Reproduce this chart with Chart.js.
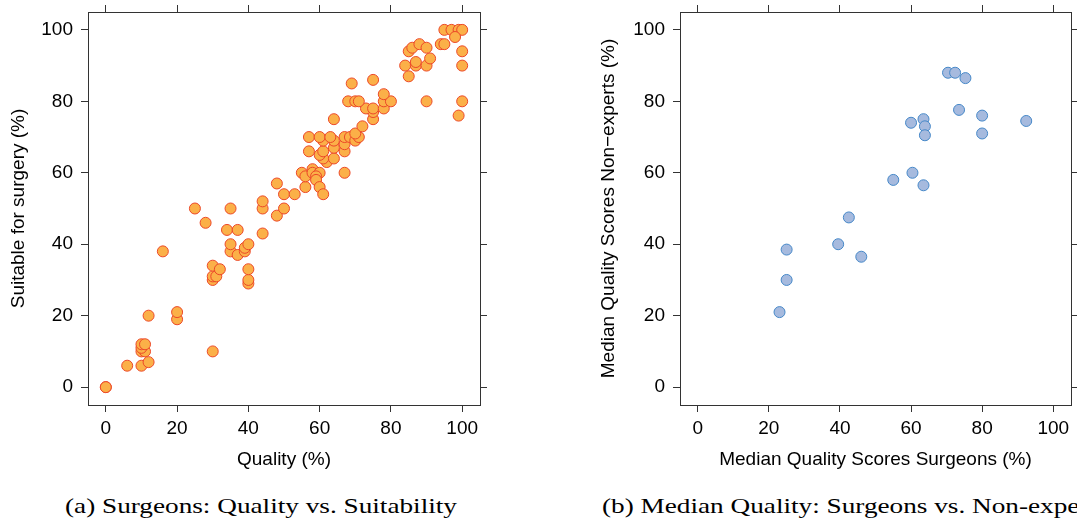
<!DOCTYPE html>
<html>
<head>
<meta charset="utf-8">
<script src="https://cdn.jsdelivr.net/npm/chart.js@4.4.0/dist/chart.umd.min.js"></script>
<style>
html, body { margin:0; padding:0; background:#fff; overflow:hidden; width:1077px; height:521px; }
.plot { position:absolute; top:0; }
#wrapA { left:0; width:490px; height:480px; }
#wrapB { left:590px; width:497px; height:480px; }
.caption { position:absolute; top:494px; font-family:'Liberation Serif', serif; font-size:21px; white-space:nowrap; transform-origin:0 0; color:#000; }
#capA { left:65px; }
#capB { left:602px; }
</style>
</head>
<body>
<div class="plot" id="wrapA"><canvas id="graficoA"></canvas></div>
<div class="plot" id="wrapB"><canvas id="graficoB"></canvas></div>
<div class="caption" id="capA">(a) Surgeons: Quality vs. Suitability</div>
<div class="caption" id="capB">(b) Median Quality: Surgeons vs. Non-experts</div>
<script>
// (a) surgeons: quality vs suitable for surgery, one point per rating
const qualidade = [0, 0, 6, 10, 12, 10, 11, 10, 10, 11, 12, 20, 20, 30, 16,
  30, 30, 31, 30, 32, 40, 40, 40, 35, 37, 39, 39, 35, 40,
  25, 35, 28, 34, 37, 44, 44, 44, 48, 50, 48, 50, 53,
  55, 56, 56, 58, 58, 60, 59, 59, 60, 61, 62, 61, 64, 60, 61, 57, 64, 67, 67, 64, 61,
  57, 60, 63, 67, 68.5, 70, 71, 70, 72, 67, 64,
  75, 75, 73, 75, 78, 78, 80, 78, 68, 70, 71, 69, 75,
  85, 84, 87, 87, 90, 91, 85, 86, 88, 90, 94, 95, 95, 97, 99, 100, 98, 100, 100, 100, 99, 90];
const adequado = [0, 0, 6, 6, 7, 10, 10, 11, 12, 12, 20, 19, 21, 10, 38,
  30, 31, 31, 34, 33, 29, 30, 33, 38, 37, 38, 39, 40, 40,
  50, 50, 46, 44, 44, 43, 50, 52, 48, 50, 57, 54, 54,
  60, 56, 59, 61, 60, 60, 59, 58, 56, 54, 63, 64, 64, 65, 66, 66, 67, 66, 68, 69, 69,
  70, 70, 70, 70, 70, 69, 70, 71, 73, 60, 75,
  75, 77, 78, 78, 78, 80, 80, 82, 80, 80, 80, 85, 86,
  87, 90, 90, 91, 90, 92, 94, 95, 96, 95, 96, 96, 100, 100, 100, 100, 98, 94, 90, 80, 76, 80];

// (b) median quality per video: surgeons vs non-experts
const medianaCirurgioes = [70.4, 72.4, 75.3, 73.5, 80, 92.4, 60, 63.5, 63.9, 63.9, 80,
  60.4, 55, 63.5, 42.5, 39.5, 46, 25, 25, 23];
const medianaLeigos = [88, 88, 86.5, 77.6, 76, 74.5, 74, 75, 73, 70.5, 71,
  60, 58, 56.5, 47.5, 40, 36.5, 38.5, 30, 21];

const marcas = [0, 20, 40, 60, 80, 100];

Chart.defaults.font.family = "'Liberation Sans', Arial, sans-serif";
Chart.defaults.color = '#000';

function eixo(pos, mostraTexto, titulo, tamanho) {
  const horizontal = pos === 'top' || pos === 'bottom';
  return {
    type: 'linear',
    position: pos,
    min: -5,
    max: 105,
    afterBuildTicks: function(scale) {
      scale.ticks = marcas.map(v => ({ value: v }));
    },
    afterFit: function(scale) {
      if (horizontal) scale.height = tamanho; else scale.width = tamanho;
      // no extra room for labels sticking out of the box
      scale.paddingTop = 0; scale.paddingBottom = 0;
      scale.paddingLeft = 0; scale.paddingRight = 0;
    },
    grid: { drawOnChartArea: false, drawTicks: true, tickLength: 7, color: '#333', lineWidth: 1 },
    border: { display: true, color: '#333', width: 1 },
    ticks: {
      display: mostraTexto,
      padding: horizontal ? 5 : 8,
      font: { size: 19 },
      color: '#000'
    },
    title: {
      display: !!titulo,
      text: titulo || '',
      font: { size: 19 },
      color: '#000',
      padding: horizontal ? { top: 0, bottom: 8.6 } : { top: 7, bottom: 0 }
    }
  };
}

function grafico(id, xs, ys, fundo, borda, tituloX, tituloY, larguraDir) {
  const pontos = xs.map((x, i) => ({ x: x, y: ys[i] }));
  new Chart(document.getElementById(id), {
    type: 'scatter',
    data: {
      datasets: [{
        data: pontos,
        backgroundColor: fundo,
        borderColor: borda,
        borderWidth: 1,
        pointRadius: 5.5,
        pointHoverRadius: 5.5
      }]
    },
    options: {
      responsive: true,
      maintainAspectRatio: false,
      animation: false,
      devicePixelRatio: 1,
      layout: { padding: 0 },
      plugins: { legend: { display: false }, tooltip: { enabled: false } },
      scales: {
        x: eixo('bottom', true, tituloX, 75),
        x2: eixo('top', false, null, 12),
        y: eixo('left', true, tituloY, id === 'graficoA' ? 88 : 90),
        y2: eixo('right', false, null, larguraDir)
      }
    }
  });
}

grafico('graficoA', qualidade, adequado, 'rgb(251,176,72)', 'rgb(236,72,40)',
  'Quality (%)', 'Suitable for surgery (%)', 10);
grafico('graficoB', medianaCirurgioes, medianaLeigos, 'rgb(166,186,222)', 'rgb(70,136,200)',
  'Median Quality Scores Surgeons (%)', 'Median Quality Scores Non\u2212experts (%)', 16);

// stretch the serif captions to the width of the LaTeX ones
const capA = document.getElementById('capA');
const fator = 392 / capA.getBoundingClientRect().width;
capA.style.transform = 'scaleX(' + fator + ')';
document.getElementById('capB').style.transform = 'scaleX(' + fator + ')';
</script>
</body>
</html>
